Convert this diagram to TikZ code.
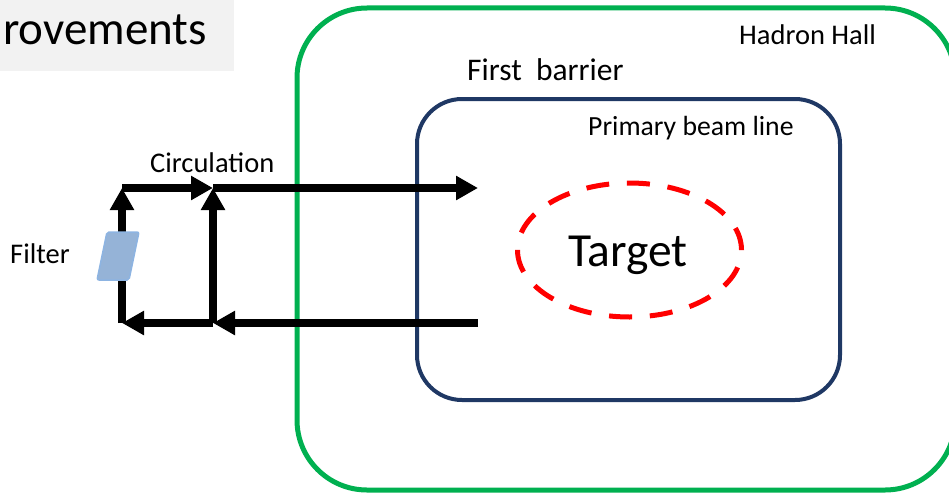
\documentclass[tikz,border=0pt]{standalone}
\usepackage{fontspec}
\setmainfont{Carlito}
\usetikzlibrary{arrows.meta}
\definecolor{hallgreen}{HTML}{00B050}
\definecolor{linenavy}{HTML}{1F3864}
\definecolor{filterblue}{HTML}{95B3D7}
\definecolor{filteredge}{HTML}{8DB4E2}
\definecolor{titlegray}{HTML}{F2F2F2}
\begin{document}
\begin{tikzpicture}[x=1pt,y=-1pt,
    flow/.style={line width=7.5pt,-{Triangle[length=22pt,width=23pt]}},
    lbl/.style={anchor=base west,inner sep=0pt,font=\fontsize{28.5}{34}\selectfont}]

        \useasboundingbox (0,0) rectangle (949,495);

        % title strip
        \fill[titlegray] (0,0) rectangle (234,71);
        \node[lbl,font=\fontsize{47}{56}\selectfont] (title) at (3,45) {rovements};

        % hall, barrier and target
        \draw[hallgreen,line width=5pt,rounded corners=70pt] (297,8) rectangle (955,490);
        \draw[linenavy,line width=4pt,rounded corners=45pt] (417,99) rectangle (840,400);
        \draw[red,line width=5pt,dash pattern=on 23pt off 17.8pt] (629.5,250) ellipse [x radius=112pt,y radius=67pt];

        \node[lbl] (hall) at (739,45) {Hadron Hall};
        \node[lbl,font=\fontsize{31.5}{38}\selectfont] (barrier) at (467,80) {First\ \ barrier};
        \node[lbl,font=\fontsize{27.7}{33}\selectfont] (beamline) at (588,135) {Primary beam line};
        \node[lbl,font=\fontsize{47.5}{56}\selectfont] (target) at (568,266) {Target};

        % circulation loop
        \coordinate (topin) at (478,188);
        \coordinate (botin) at (478,323);
        \coordinate (jtop)  at (213,188);
        \coordinate (jbot)  at (213,323);
        \coordinate (ltop)  at (122,188);
        \coordinate (lbot)  at (122,323);

        \draw[flow] (botin) -- (jbot);
        \draw[flow] (jbot) -- (lbot);
        \draw[flow] (lbot) -- (ltop);
        \draw[flow] (ltop) -- (jtop);
        \draw[flow] (jbot) -- (jtop);
        \draw[flow] (jtop) -- (topin);

        \node[lbl] (circ) at (150,172) {Circulation};

        % filter
        \filldraw[fill=filterblue,draw=filteredge,line width=1.5pt,rounded corners=2pt]
          (107,232) -- (139,232) -- (129,280) -- (97,280) -- cycle;
        \node[lbl] (filter) at (10,263) {Filter};

      \end{tikzpicture}
\end{document}
